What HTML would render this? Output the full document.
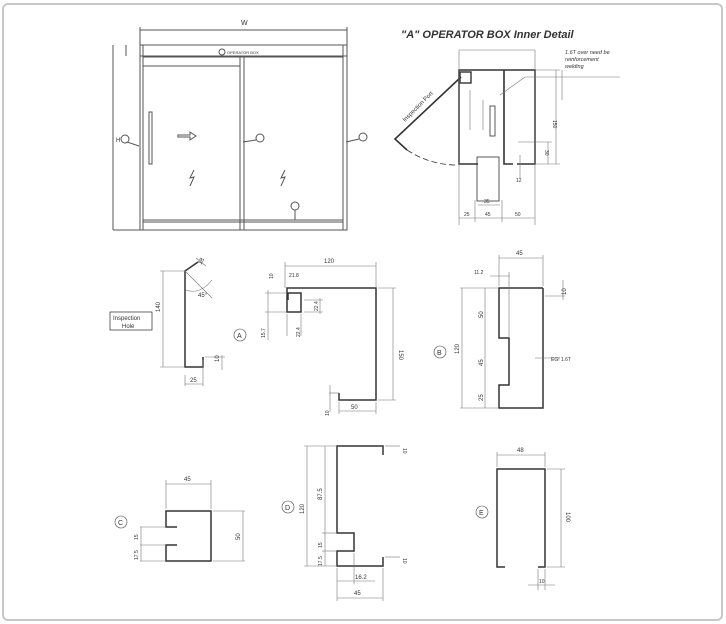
<!DOCTYPE html>
<html><head><meta charset="utf-8"><style>
html,body{margin:0;padding:0;background:#fff;width:726px;height:624px;overflow:hidden}
svg{display:block}
text{font-family:"Liberation Sans",sans-serif;fill:#333}
</style></head><body>
<svg width="726" height="624" viewBox="0 0 726 624" xmlns="http://www.w3.org/2000/svg">
<rect x="3" y="4" width="719" height="616" rx="5" fill="#fff" stroke="#c8c8c8" stroke-width="2"/>
<g fill="none" stroke="#555" stroke-width="1">
<!-- door elevation -->
<line x1="113" y1="45" x2="113" y2="230"/>
<line x1="113" y1="230" x2="347" y2="230"/>
<rect x="140" y="45" width="207" height="185"/>
<line x1="143" y1="45" x2="143" y2="230"/>
<line x1="343" y1="45" x2="343" y2="230"/>
<line x1="140" y1="56" x2="347" y2="56"/>
<line x1="143" y1="57" x2="343" y2="57"/>
<line x1="143" y1="66" x2="240" y2="66"/>
<line x1="240" y1="57" x2="240" y2="230"/>
<line x1="244" y1="57" x2="244" y2="230"/>
<line x1="143" y1="220" x2="343" y2="220"/>
<line x1="143" y1="222" x2="343" y2="222"/>
<line x1="140" y1="30" x2="347" y2="30"/>
<line x1="140" y1="27" x2="140" y2="45"/><line x1="347" y1="27" x2="347" y2="45"/>
<line x1="126" y1="45" x2="126" y2="56"/>
<rect x="149" y="112" width="3" height="52"/>
<path d="M178 135h12v-3l6 4-6 4v-3h-12z"/>
<circle cx="125" cy="139" r="4"/><line x1="127" y1="142" x2="139" y2="146"/>
<circle cx="260" cy="138" r="4"/><line x1="256" y1="140" x2="243" y2="142"/>
<circle cx="363" cy="137" r="4"/><line x1="359" y1="139" x2="346" y2="142"/>
<circle cx="295" cy="206" r="4"/><line x1="295" y1="210" x2="295" y2="220"/>
<path d="M194 170l-4 8 4-1-4 9M285 170l-4 8 4-1-4 9"/>
<circle cx="222" cy="52" r="3"/>
</g>
<text x="241" y="25" font-size="7">W</text>
<text x="116" y="142" font-size="6">H</text>
<text x="227" y="54" font-size="4">OPERATOR BOX</text>

<!-- operator box detail -->
<text x="401" y="38" font-size="11" font-weight="bold" font-style="italic">"A" OPERATOR BOX Inner Detail</text>
<g fill="none" stroke="#333">
<path d="M478 164H459V70H535V164H517M504 70V164H513" stroke-width="1.6"/>
<rect x="460" y="72" width="11" height="11" stroke-width="1.4"/>
<path d="M461 77L395 139L407 150" stroke-width="1.6"/>
<path d="M407 150Q430 165 457 165" stroke-dasharray="6 3" stroke-width="0.8"/>
<rect x="477" y="157" width="22" height="44" stroke-width="0.8"/>
<rect x="490" y="106" width="5" height="30" stroke-width="0.8"/>
</g>
<g fill="none" stroke="#777" stroke-width="0.6">
<line x1="459" y1="50" x2="459" y2="225"/><line x1="535" y1="50" x2="535" y2="225"/>
<line x1="459" y1="50" x2="535" y2="50"/>
<line x1="459" y1="218" x2="535" y2="218"/>
<line x1="475" y1="200" x2="475" y2="222"/><line x1="502" y1="200" x2="502" y2="222"/>
<line x1="536" y1="70" x2="560" y2="70"/><line x1="536" y1="164" x2="560" y2="164"/>
<line x1="556" y1="70" x2="556" y2="164"/>
<line x1="518" y1="142" x2="552" y2="142"/><line x1="548" y1="142" x2="548" y2="164"/>
<line x1="478" y1="205" x2="500" y2="205"/>
<line x1="500" y1="95" x2="525" y2="77"/><line x1="525" y1="77" x2="620" y2="77"/>
<line x1="562" y1="70" x2="562" y2="100"/>
<line x1="520" y1="155" x2="520" y2="178"/>
<path d="M470 90v40M483 100v30"/>
</g>
<text x="565" y="54" font-size="5.5" font-style="italic">1.6T over need be</text>
<text x="565" y="61" font-size="5.5" font-style="italic">reinforcement</text>
<text x="565" y="68" font-size="5.5" font-style="italic">welding</text>
<text x="0" y="0" font-size="6" transform="translate(405,122) rotate(-45)">Inspection Port</text>
<text x="0" y="0" font-size="5" transform="translate(553,120) rotate(90)">150</text>
<text x="0" y="0" font-size="5" transform="translate(545,150) rotate(90)">30</text>
<text x="464" y="216" font-size="5">25</text><text x="485" y="216" font-size="5">45</text><text x="515" y="216" font-size="5">50</text>
<text x="484" y="203" font-size="5">35</text><text x="516" y="182" font-size="5">12</text>

<!-- lower profiles -->
<g fill="none" stroke="#333" stroke-width="1.5">
<path d="M198 262L185 271V367H203V357"/>
<path d="M288 300V293H301V312H287V288H376V400H339V393"/>
<path d="M543 288H499V338H509V385H499V408H543V288"/>
<path d="M177 527H166V511H211V561H166V545H177"/>
<path d="M383 455V446H337V533H354V551H337V566H383V557"/>
<path d="M505 567H497V469H545V567H538"/>
</g>
<g fill="none" stroke="#777" stroke-width="0.6">
<line x1="163" y1="271" x2="163" y2="367"/><line x1="160" y1="271" x2="185" y2="271"/><line x1="160" y1="367" x2="185" y2="367"/>
<line x1="185" y1="375" x2="185" y2="386"/><line x1="203" y1="360" x2="203" y2="386"/><line x1="185" y1="384" x2="203" y2="384"/>
<line x1="205" y1="357" x2="225" y2="357"/><line x1="222" y1="355" x2="222" y2="370"/>
<path d="M186 290Q200 295 212 280"/><line x1="185" y1="271" x2="212" y2="298"/>
<line x1="196" y1="258" x2="206" y2="266"/>
<rect x="110" y="312" width="42" height="18" stroke="#444" stroke-width="0.8"/>
<circle cx="240" cy="335" r="6" stroke="#444"/>
<line x1="285" y1="266" x2="376" y2="266"/><line x1="285" y1="262" x2="285" y2="288"/><line x1="376" y1="262" x2="376" y2="288"/>
<line x1="378" y1="288" x2="396" y2="288"/><line x1="378" y1="400" x2="396" y2="400"/><line x1="393" y1="288" x2="393" y2="400"/>
<line x1="339" y1="402" x2="339" y2="414"/><line x1="376" y1="402" x2="376" y2="414"/><line x1="339" y1="411" x2="376" y2="411"/>
<line x1="304" y1="300" x2="323" y2="300"/><line x1="304" y1="312" x2="323" y2="312"/><line x1="320" y1="298" x2="320" y2="314"/>
<line x1="265" y1="293" x2="287" y2="293"/><line x1="265" y1="312" x2="287" y2="312"/><line x1="268" y1="290" x2="268" y2="340"/>
<line x1="287" y1="314" x2="287" y2="336"/><line x1="301" y1="314" x2="301" y2="336"/>
<line x1="329" y1="393" x2="339" y2="393"/><line x1="330" y1="385" x2="330" y2="412"/>
<circle cx="440" cy="352" r="6" stroke="#444"/>
<line x1="462" y1="288" x2="462" y2="408"/><line x1="460" y1="288" x2="499" y2="288"/><line x1="460" y1="408" x2="499" y2="408"/>
<line x1="485" y1="288" x2="485" y2="408"/>
<line x1="499" y1="258" x2="543" y2="258"/><line x1="499" y1="255" x2="499" y2="286"/><line x1="543" y1="255" x2="543" y2="286"/>
<line x1="490" y1="276" x2="510" y2="276"/><line x1="509" y1="272" x2="509" y2="338"/>
<line x1="545" y1="296" x2="565" y2="296"/><line x1="563" y1="280" x2="563" y2="300"/>
<line x1="535" y1="358" x2="560" y2="358"/>
<circle cx="121" cy="522" r="6" stroke="#444"/>
<line x1="166" y1="484" x2="211" y2="484"/><line x1="166" y1="480" x2="166" y2="509"/><line x1="211" y1="480" x2="211" y2="509"/>
<line x1="213" y1="511" x2="245" y2="511"/><line x1="213" y1="561" x2="245" y2="561"/><line x1="243" y1="511" x2="243" y2="561"/>
<line x1="140" y1="527" x2="166" y2="527"/><line x1="140" y1="545" x2="166" y2="545"/><line x1="140" y1="561" x2="166" y2="561"/>
<line x1="141" y1="527" x2="141" y2="561"/>
<circle cx="288" cy="507" r="6" stroke="#444"/>
<line x1="307" y1="446" x2="307" y2="566"/><line x1="304" y1="446" x2="337" y2="446"/><line x1="304" y1="566" x2="337" y2="566"/>
<line x1="325" y1="446" x2="325" y2="566"/><line x1="322" y1="533" x2="337" y2="533"/><line x1="322" y1="551" x2="337" y2="551"/>
<line x1="337" y1="598" x2="383" y2="598"/><line x1="337" y1="568" x2="337" y2="601"/><line x1="383" y1="568" x2="383" y2="601"/>
<line x1="337" y1="581" x2="375" y2="581"/><line x1="354" y1="553" x2="354" y2="584"/>
<line x1="385" y1="446" x2="400" y2="446"/><line x1="385" y1="557" x2="400" y2="557"/>
<circle cx="482" cy="512" r="6" stroke="#444"/>
<line x1="497" y1="455" x2="545" y2="455"/><line x1="497" y1="452" x2="497" y2="467"/><line x1="545" y1="452" x2="545" y2="467"/>
<line x1="547" y1="469" x2="565" y2="469"/><line x1="547" y1="567" x2="565" y2="567"/><line x1="561" y1="469" x2="561" y2="567"/>
<line x1="538" y1="569" x2="538" y2="590"/><line x1="545" y1="569" x2="545" y2="590"/><line x1="528" y1="585" x2="555" y2="585"/>
</g>
<g font-size="6">
<text x="113" y="320">Inspection</text><text x="122" y="328">Hole</text>
<text x="0" y="0" transform="translate(160,312) rotate(-90)">140</text>
<text x="190" y="382">25</text><text x="0" y="0" transform="translate(219,362) rotate(-90)">10</text>
<text x="198" y="297">45°</text><text x="0" y="0" transform="translate(201,265) rotate(-60)">18</text>
<text x="237" y="338" font-size="7">A</text>
<text x="324" y="263">120</text><text x="0" y="0" transform="translate(399,350) rotate(90)">150</text>
<text x="351" y="409">50</text><text x="289" y="277" font-size="5">21.8</text>
<text x="0" y="0" transform="translate(318,311) rotate(-90)" font-size="5">22.4</text>
<text x="0" y="0" transform="translate(300,337) rotate(-90)" font-size="5">22.4</text>
<text x="0" y="0" transform="translate(265,338) rotate(-90)" font-size="5">15.7</text>
<text x="0" y="0" transform="translate(273,279) rotate(-90)" font-size="5">10</text>
<text x="0" y="0" transform="translate(329,416) rotate(-90)" font-size="5">10</text>
<text x="437" y="355" font-size="7">B</text>
<text x="516" y="255">45</text><text x="474" y="274" font-size="5">11.2</text>
<text x="0" y="0" transform="translate(459,354) rotate(-90)">120</text>
<text x="0" y="0" transform="translate(483,318) rotate(-90)">50</text>
<text x="0" y="0" transform="translate(483,366) rotate(-90)">45</text>
<text x="0" y="0" transform="translate(483,401) rotate(-90)">25</text>
<text x="0" y="0" transform="translate(566,295) rotate(-90)">10</text>
<text x="551" y="361" font-size="5">EG! 1.6T</text>
<text x="118" y="525" font-size="7">C</text>
<text x="184" y="481">45</text><text x="0" y="0" transform="translate(240,540) rotate(-90)">50</text>
<text x="0" y="0" transform="translate(138,540) rotate(-90)" font-size="5">15</text>
<text x="0" y="0" transform="translate(138,560) rotate(-90)" font-size="5">17.5</text>
<text x="285" y="510" font-size="7">D</text>
<text x="0" y="0" transform="translate(304,514) rotate(-90)">120</text>
<text x="0" y="0" transform="translate(322,500) rotate(-90)">87.5</text>
<text x="0" y="0" transform="translate(322,548) rotate(-90)" font-size="5">15</text>
<text x="0" y="0" transform="translate(322,566) rotate(-90)" font-size="5">17.5</text>
<text x="355" y="579">16.2</text><text x="354" y="595">45</text>
<text x="0" y="0" transform="translate(403,448) rotate(90)" font-size="5">10</text>
<text x="0" y="0" transform="translate(403,558) rotate(90)" font-size="5">10</text>
<text x="479" y="515" font-size="7">E</text>
<text x="517" y="452">48</text><text x="0" y="0" transform="translate(566,512) rotate(90)">100</text>
<text x="539" y="583" font-size="5">10</text>
</g>
</svg>
</body></html>
